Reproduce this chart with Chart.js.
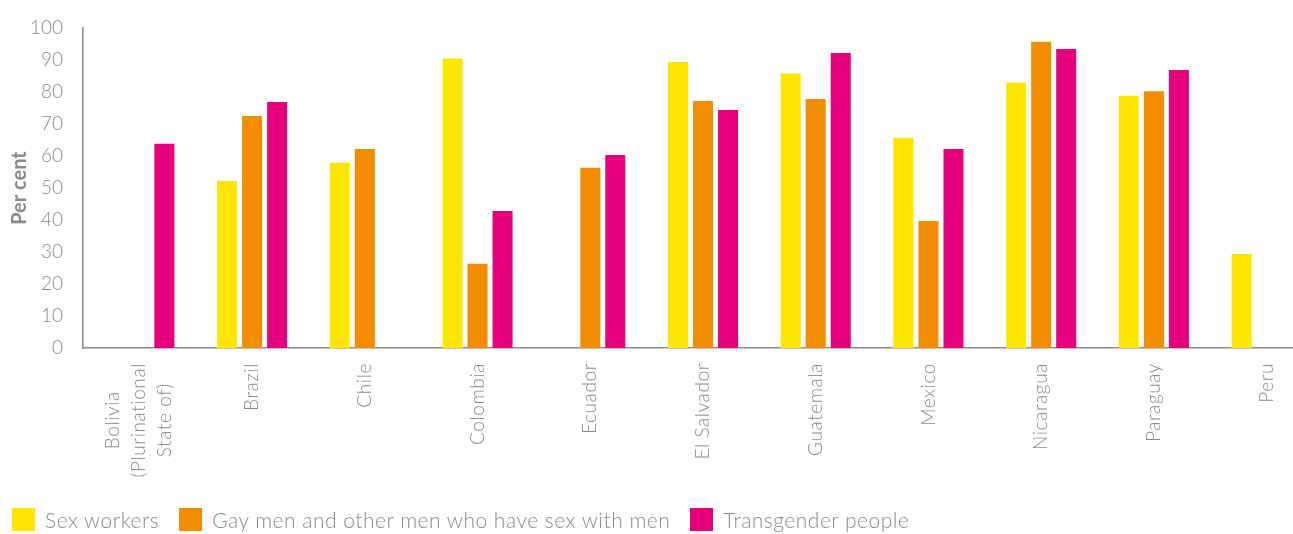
<!DOCTYPE html>
<html>
<head>
<meta charset="utf-8">
<script src="https://cdn.jsdelivr.net/npm/chart.js@4.4.1/dist/chart.umd.min.js"></script>
<style>
  html, body { margin: 0; padding: 0; background: #fff; overflow: hidden; }
  #wrap { position: relative; width: 1323px; height: 534px; }
  #box { position: absolute; left: 0; top: 0; width: 1323px; height: 534px; }
  #legend { position: absolute; left: 12px; top: 507px; display: flex; align-items: center;
            font-family: Lato, sans-serif; font-weight: 300; font-size: 21px; letter-spacing: 0.5px;
            color: #8a8a8a; white-space: nowrap; }
  .item { display: flex; align-items: center; margin-right: 20px; }
  .swatch { width: 23px; height: 23px; margin-right: 10px; }
</style>
</head>
<body>
<div id="wrap">
  <div id="box"><canvas id="chart"></canvas></div>
  <div id="legend"></div>
</div>
<script>
const countries = [['Bolivia', '(Plurinational', 'State of)'], 'Brazil', 'Chile', 'Colombia', 'Ecuador',
  'El Salvador', 'Guatemala', 'Mexico', 'Nicaragua', 'Paraguay', 'Peru'];
const sexWorkers = [null, 52.2, 57.9, 90.5, null, 89.4, 85.8, 65.7, 82.9, 78.8, 29.4];
const gayMen = [null, 72.5, 62.2, 26.3, 56.3, 77.2, 77.8, 39.7, 95.7, 80.2, null];
const transgender = [63.8, 76.9, null, 42.8, 60.3, 74.4, 92.2, 62.2, 93.4, 86.9, null];
const seriesNames = ['Sex workers', 'Gay men and other men who have sex with men', 'Transgender people'];
const seriesColors = ['#ffe600', '#f28c00', '#e6007e'];

const gray = '#8a8a8a';
const axisGray = '#8c8c8c';

// x labels drawn by hand so multi-line names stay centred on the tick
const xLabels = {
  id: 'xLabels',
  afterDraw(chart) {
    const ctx = chart.ctx;
    const x = chart.scales.x;
    ctx.save();
    ctx.font = '300 19px Lato';
    ctx.letterSpacing = '0.6px';
    ctx.fillStyle = gray;
    ctx.textAlign = 'center';
    ctx.textBaseline = 'middle';
    countries.forEach((lab, i) => {
      const lines = Array.isArray(lab) ? lab : [lab];
      const px = x.getPixelForValue(i);
      const w = Math.max(...lines.map(l => ctx.measureText(l).width));
      const cy = x.top + 15 + w / 2;
      lines.forEach((l, j) => {
        ctx.save();
        ctx.translate(px + (j - (lines.length - 1) / 2) * 26, cy);
        ctx.rotate(-Math.PI / 2);
        ctx.fillText(l, 0, 0);
        ctx.restore();
      });
    });
    ctx.restore();
  }
};

const ctx = document.getElementById('chart').getContext('2d');
const chart = new Chart(ctx, {
  type: 'bar',
  data: {
    labels: countries,
    datasets: [sexWorkers, gayMen, transgender].map((d, i) => ({
      label: seriesNames[i],
      data: d,
      backgroundColor: seriesColors[i],
      borderWidth: 0,
      barPercentage: 0.8,
      categoryPercentage: 0.666
    }))
  },
  options: {
    responsive: true,
    maintainAspectRatio: false,
    animation: false,
    layout: { padding: { top: 28, left: 0, right: 0, bottom: 0 } },
    plugins: {
      legend: { display: false },
      tooltip: { enabled: false }
    },
    scales: {
      x: {
        grid: { display: false },
        border: { display: true, color: axisGray, width: 1.5 },
        ticks: { display: false },
        afterFit(scale) { scale.height = 186; }
      },
      y: {
        min: 0,
        max: 100,
        grid: { display: false, drawTicks: true, tickLength: 20 },
        border: { display: true, color: axisGray, width: 1.5 },
        ticks: {
          stepSize: 10,
          padding: 0,
          color: gray,
          font: { family: 'Lato', weight: '300', size: 19 }
        },
        title: {
          display: true,
          text: 'Per cent',
          color: gray,
          padding: { top: 8, bottom: 0 },
          font: { family: 'Lato', weight: 'bold', size: 20 }
        },
        afterFit(scale) { scale.width = 83; }
      }
    }
  },
  plugins: [xLabels]
});

const legend = document.getElementById('legend');
chart.data.datasets.forEach(ds => {
  const item = document.createElement('div');
  item.className = 'item';
  const sw = document.createElement('span');
  sw.className = 'swatch';
  sw.style.background = ds.backgroundColor;
  const txt = document.createElement('span');
  txt.textContent = ds.label;
  item.appendChild(sw);
  item.appendChild(txt);
  legend.appendChild(item);
});
</script>
</body>
</html>
